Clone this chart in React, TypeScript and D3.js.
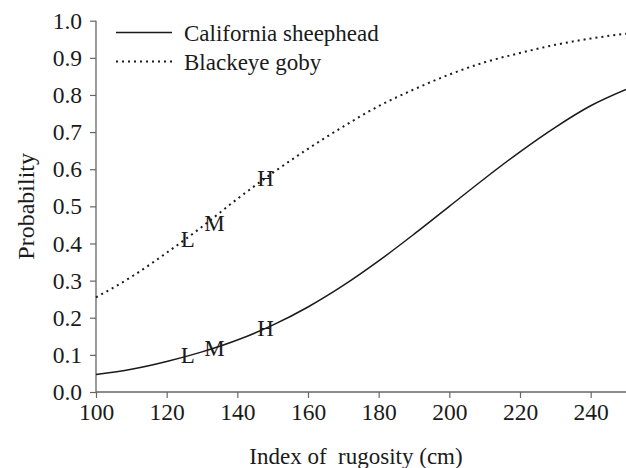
import React, { useEffect, useRef } from "react";
import * as d3 from "d3";

// values
const rugosity = [100, 110, 120, 130, 140, 150, 160, 170, 180, 190, 200, 210, 220, 230, 240, 250];
const sheephead = [0.047, 0.061, 0.082, 0.108, 0.14, 0.18, 0.229, 0.287, 0.353, 0.425, 0.5, 0.575, 0.647, 0.713, 0.771, 0.815];
const goby = [0.255, 0.31, 0.375, 0.445, 0.52, 0.59, 0.655, 0.715, 0.77, 0.815, 0.855, 0.888, 0.913, 0.935, 0.952, 0.965];

const markLabels = ["L", "M", "H"];
const markX = [126, 133.5, 148];
const sheepheadMarkY = [0.097, 0.118, 0.172];
const gobyMarkY = [0.41, 0.455, 0.575];

const xTicks = [100, 120, 140, 160, 180, 200, 220, 240];
const yTicks = [0, 0.1, 0.2, 0.3, 0.4, 0.5, 0.6, 0.7, 0.8, 0.9, 1.0];

const seriesNames = ["California sheephead", "Blackeye goby"];

const W = 626;
const H = 468;
const FONT = "'Liberation Serif', 'Times New Roman', serif";
const INK = "#1a1a1a";

export default function App() {
  const svgRef = useRef<SVGSVGElement>(null);

  useEffect(() => {
    const svg = d3.select(svgRef.current);
    svg.selectAll("*").remove();

    const x = d3.scaleLinear().domain([100, 250]).range([96, 626]);
    const y = d3.scaleLinear().domain([0, 1]).range([392, 20.7]);

    // axes
    const xAxis = d3.axisBottom(x).tickValues(xTicks).tickSize(6).tickPadding(5).tickFormat(d3.format("d"));
    const yAxis = d3.axisLeft(y).tickValues(yTicks).tickSize(6).tickPadding(8).tickFormat(d3.format(".1f"));

    const gx = svg.append("g").attr("transform", `translate(0,${y(0)})`).call(xAxis);
    const gy = svg.append("g").attr("transform", `translate(${x(100)},0)`).call(yAxis);

    [gx, gy].forEach((g) => {
      g.select(".domain").attr("stroke", "#666").attr("stroke-width", 1.3);
      g.selectAll(".tick line").attr("stroke", "#666").attr("stroke-width", 1.2);
      g.selectAll(".tick text")
        .attr("fill", INK)
        .style("font-family", FONT)
        .style("font-size", "23.5px");
    });
    // plain domain lines without end caps
    gx.select(".domain").attr("d", `M${x(100)},0H${x(250)}`);
    gy.select(".domain").attr("d", `M0,${y(0)}V${y(1)}`);

    const line = d3
      .line<number>()
      .x((_, i) => x(rugosity[i]))
      .y((d) => y(d))
      .curve(d3.curveMonotoneX);

    svg
      .append("path")
      .datum(sheephead)
      .attr("d", line)
      .attr("fill", "none")
      .attr("stroke", INK)
      .attr("stroke-width", 1.5);

    svg
      .append("path")
      .datum(goby)
      .attr("d", line)
      .attr("fill", "none")
      .attr("stroke", INK)
      .attr("stroke-width", 2)
      .attr("stroke-dasharray", "2 4");

    // L / M / H markers
    [sheepheadMarkY, gobyMarkY].forEach((vals) => {
      svg
        .append("g")
        .selectAll("text")
        .data(markLabels)
        .enter()
        .append("text")
        .attr("x", (_, i) => x(markX[i]))
        .attr("y", (_, i) => y(vals[i]))
        .attr("text-anchor", "middle")
        .attr("dominant-baseline", "central")
        .attr("fill", INK)
        .style("font-family", FONT)
        .style("font-size", "23px")
        .text((d) => d);
    });

    // legend
    const legend = svg.append("g");
    seriesNames.forEach((name, i) => {
      const ly = 32.5 + i * 29;
      legend
        .append("line")
        .attr("x1", 116)
        .attr("x2", 172)
        .attr("y1", ly)
        .attr("y2", ly)
        .attr("stroke", INK)
        .attr("stroke-width", i === 0 ? 1.5 : 2)
        .attr("stroke-dasharray", i === 0 ? null : "2 4");
      legend
        .append("text")
        .attr("x", 184)
        .attr("y", ly + 8)
        .attr("fill", INK)
        .style("font-family", FONT)
        .style("font-size", "23px")
        .text(name);
    });

    // axis titles
    svg
      .append("text")
      .attr("x", 356)
      .attr("y", 464)
      .attr("text-anchor", "middle")
      .attr("fill", INK)
      .style("font-family", FONT)
      .style("font-size", "23px")
      .text("Index of\u00a0 rugosity (cm)");

    svg
      .append("text")
      .attr("transform", `translate(34,${(y(0) + y(1)) / 2}) rotate(-90)`)
      .attr("text-anchor", "middle")
      .attr("fill", INK)
      .style("font-family", FONT)
      .style("font-size", "24px")
      .text("Probability");
  }, []);

  return (
    <svg
      ref={svgRef}
      width={W}
      height={H}
      style={{ position: "absolute", left: 0, top: 0, background: "#fff" }}
    />
  );
}
